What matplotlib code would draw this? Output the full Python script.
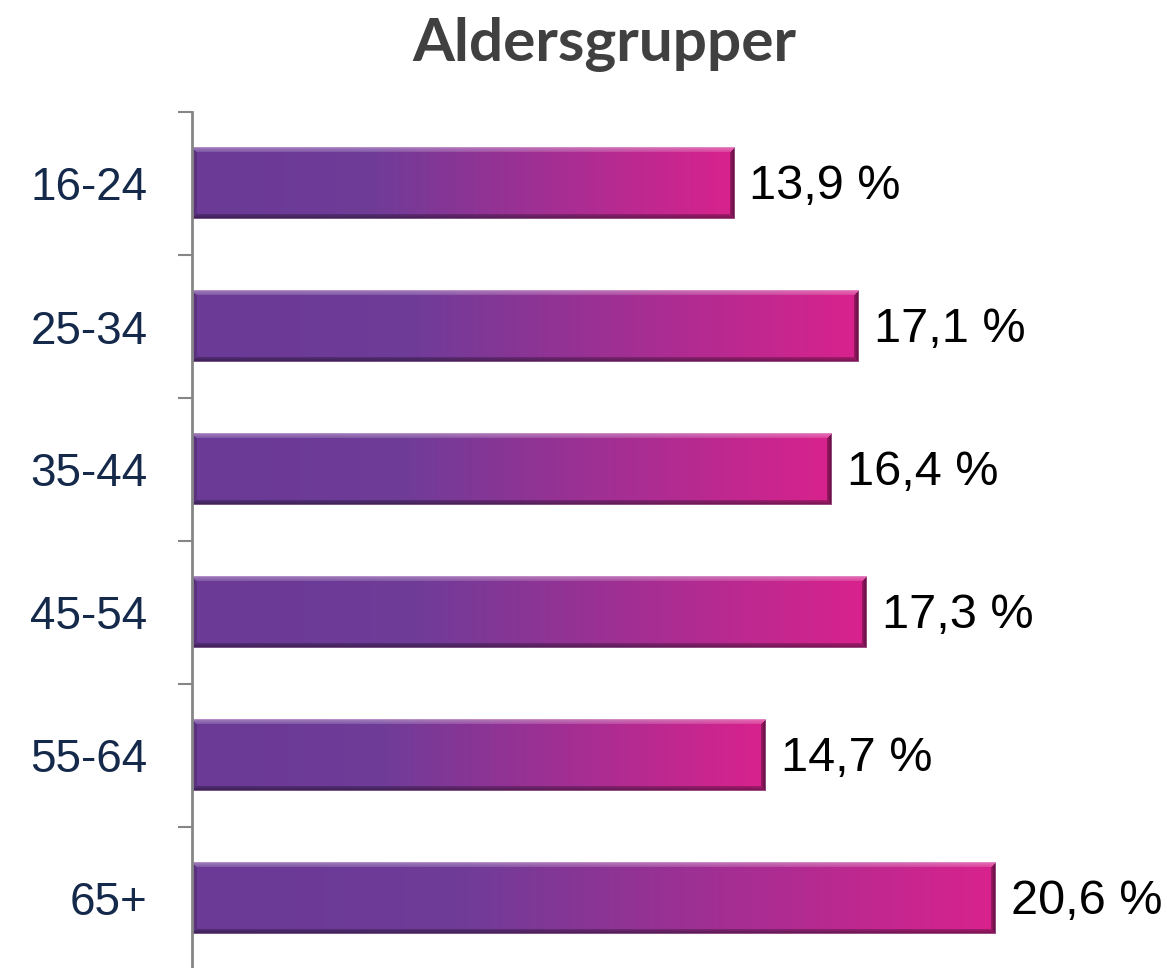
import numpy as np
import matplotlib
matplotlib.use("Agg")
import matplotlib.pyplot as plt
from matplotlib.colors import to_rgb

categories = ["16-24", "25-34", "35-44", "45-54", "55-64", "65+"]
values = [13.9, 17.1, 16.4, 17.3, 14.7, 20.6]
value_labels = ["13,9 %", "17,1 %", "16,4 %", "17,3 %", "14,7 %", "20,6 %"]
title = "Aldersgrupper"

W_PX, H_PX, DPI = 1167, 968, 100
fig = plt.figure(figsize=(W_PX / DPI, H_PX / DPI), dpi=DPI)
fig.patch.set_facecolor("white")

ax_left = 192 / W_PX
ax_top = 1 - 112 / H_PX
ax_bottom = 1 - 970 / H_PX
ax = fig.add_axes([ax_left, ax_bottom, 1 - ax_left, ax_top - ax_bottom])

ypos = np.arange(len(categories))
bars = ax.barh(ypos, values, height=0.5, color="none", edgecolor="none", zorder=1)

# gradient stops
stops = [(0.0, "#6A3A96"), (0.33, "#6F3C98"), (0.6, "#9A3194"), (1.0, "#D9228D")]
st_t = np.array([s[0] for s in stops])
st_c = np.array([to_rgb(s[1]) for s in stops])

def bar_image(w, h, bev=5):
    t = np.linspace(0, 1, w)
    base = np.stack([np.interp(t, st_t, st_c[:, k]) for k in range(3)], axis=-1)
    img = np.repeat(base[None, :, :], h, axis=0).copy()
    yy, xx = np.mgrid[0:h, 0:w]
    dt = yy.astype(float)
    db = (h - 1 - yy).astype(float)
    dl = xx.astype(float)
    dr = (w - 1 - xx).astype(float)
    d = np.stack([dt, db, dl, dr])
    face = np.argmin(d, axis=0)
    dmin = np.min(d, axis=0)
    inb = dmin < bev
    fade = 1 - dmin / bev
    # top highlight
    m = inb & (face == 0)
    a = (0.12 + 0.22 * fade[m])[:, None]
    img[m] = img[m] * (1 - a) + a
    # bottom shadow
    m = inb & (face == 1)
    img[m] = img[m] * (0.8 - 0.25 * fade[m])[:, None]
    # left
    m = inb & (face == 2)
    img[m] = img[m] * 0.85
    # right shadow
    m = inb & (face == 3)
    img[m] = img[m] * (0.75 - 0.3 * fade[m])[:, None]
    # thin outer border
    m = dmin < 1
    img[m] = img[m] * 0.6 + np.array([0.85, 0.65, 0.85]) * 0.4
    return np.clip(img, 0, 1)

px_per_unit = (W_PX * (1 - ax_left)) / 25.0
for rect in bars:
    x0, y0 = rect.get_x(), rect.get_y()
    w, h = rect.get_width(), rect.get_height()
    img = bar_image(max(int(round(w * px_per_unit)), 10), 72)
    ax.imshow(img, extent=(x0, x0 + w, y0 + h, y0), aspect="auto",
              interpolation="bilinear", zorder=2)

for rect, lab in zip(bars, value_labels):
    ax.annotate(lab, (rect.get_x() + rect.get_width(), rect.get_y() + rect.get_height() / 2),
                xytext=(11, -2.5), textcoords="offset points", ha="left", va="center",
                fontsize=35, family="Liberation Sans", color="black")

ax.set_xlim(0, 25)
ax.set_ylim(len(categories) - 0.5, -0.5)

for s in ["top", "right", "bottom"]:
    ax.spines[s].set_visible(False)
ax.spines["left"].set_color("#868686")
ax.spines["left"].set_linewidth(2)
ax.set_xticks([])
ax.set_yticks(ypos)
ax.set_yticklabels(categories, fontsize=33, family="Liberation Sans", color="#15294A")
ax.tick_params(axis="y", which="major", length=0, pad=32)
ax.set_yticks(np.arange(-0.5, len(categories), 1.0), minor=True)
ax.tick_params(axis="y", which="minor", length=10, width=1.5, color="#868686")
ax.patch.set_alpha(0)

fig.text(604 / W_PX, 1 - 45 / H_PX, title, ha="center", va="center",
         fontsize=43.5, fontweight="bold", family="Lato", color="#404040")

fig.savefig("out.png", dpi=DPI, facecolor="white")
